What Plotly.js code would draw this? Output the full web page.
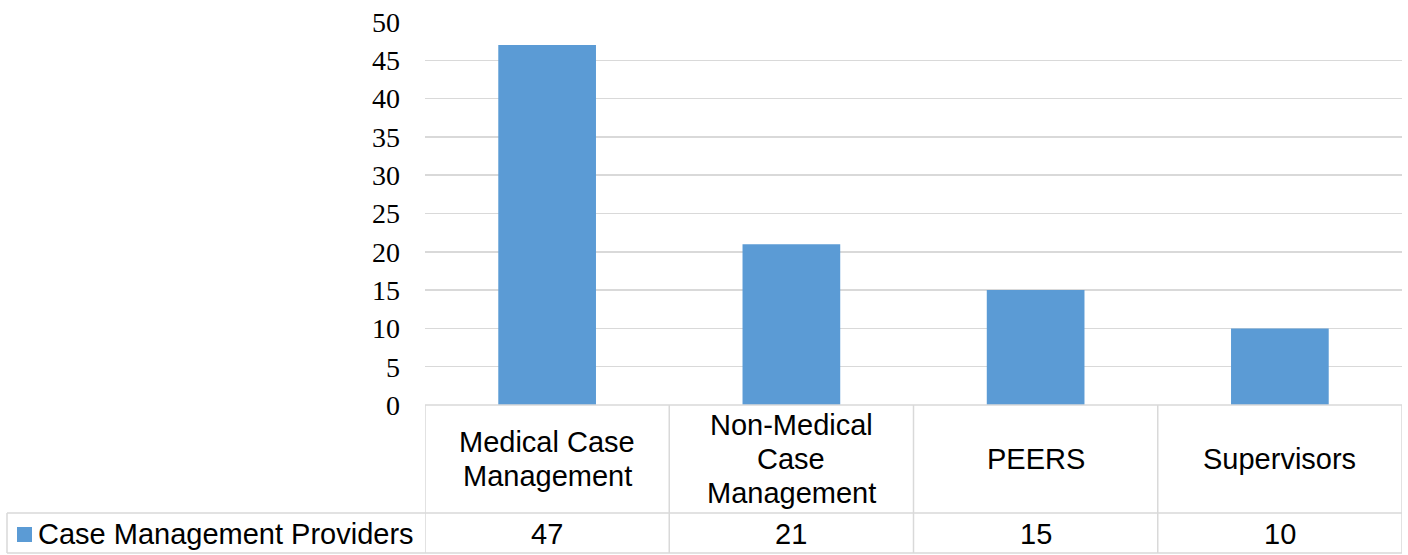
<!DOCTYPE html>
<html>
<head>
<meta charset="utf-8">
<script src="https://cdn.plot.ly/plotly-3.0.1.min.js"></script>
<style>html,body{margin:0;padding:0;background:#fff;}#chart{width:1408px;height:555px;}</style>
</head>
<body>
<div id="chart"></div>
<script>
const categories = ["Medical Case Management", "Non-Medical Case Management", "PEERS", "Supervisors"];
const categoryLines = [["Medical Case", "Management"], ["Non-Medical", "Case", "Management"], ["PEERS"], ["Supervisors"]];
const seriesName = "Case Management Providers";
const values = [47, 21, 15, 10];
const yTicks = [0, 5, 10, 15, 20, 25, 30, 35, 40, 45, 50];

const W = 1408, H = 555;
const L = 425, R = 6, T = 22, B = 150;
const pw = W - L - R, ph = H - T - B;
const X = px => (px - L) / pw;
const Y = py => (H - B - py) / ph;

const gridColor = "#D9D9D9";
const barColor = "#5B9BD5";
const tableFont = {family: "Liberation Sans, Arial, sans-serif", size: 29, color: "#000"};

const idx = categories.map((c, i) => i);

const shapes = [];
const n = categories.length;
shapes.push({type: "line", xref: "paper", yref: "paper", x0: X(425), x1: 1, y0: Y(405), y1: Y(405), line: {color: gridColor, width: 1.5}});
shapes.push({type: "line", xref: "paper", yref: "paper", x0: X(7), x1: 1, y0: Y(513), y1: Y(513), line: {color: gridColor, width: 1.5}});
shapes.push({type: "line", xref: "paper", yref: "paper", x0: X(7), x1: 1, y0: Y(553), y1: Y(553), line: {color: gridColor, width: 1.5}});
for (let k = 0; k <= n; k++) {
  shapes.push({type: "line", xref: "x", yref: "paper", x0: k - 0.5, x1: k - 0.5, y0: Y(405), y1: Y(553), line: {color: gridColor, width: 1.5}});
}
shapes.push({type: "line", xref: "paper", yref: "paper", x0: X(7), x1: X(7), y0: Y(513), y1: Y(553), line: {color: gridColor, width: 1.5}});
shapes.push({type: "rect", xref: "paper", yref: "paper", x0: X(17), x1: X(32), y0: Y(542), y1: Y(527), fillcolor: barColor, line: {width: 0}});

const annotations = [];
const lineStep = 34, headerCenter = 459;
idx.forEach(i => {
  const lines = categoryLines[i];
  lines.forEach((t, k) => {
    const py = headerCenter + (k - (lines.length - 1) / 2) * lineStep;
    annotations.push({xref: "x", yref: "paper", x: i, y: Y(py), text: t, showarrow: false, font: tableFont, xanchor: "center", yanchor: "middle"});
  });
  annotations.push({xref: "x", yref: "paper", x: i, y: Y(534), text: String(values[i]), showarrow: false, font: tableFont, xanchor: "center", yanchor: "middle"});
});
annotations.push({xref: "paper", yref: "paper", x: X(36), y: Y(534), text: seriesName, showarrow: false, font: tableFont, xanchor: "left", yanchor: "middle"});

const data = [{
  type: "bar",
  x: idx,
  y: values,
  name: seriesName,
  marker: {color: barColor},
  hoverinfo: "x+y"
}];

const layout = {
  width: W, height: H,
  margin: {l: L, r: R, t: T, b: B, pad: 0},
  paper_bgcolor: "#fff",
  plot_bgcolor: "#fff",
  showlegend: false,
  bargap: 0.6,
  xaxis: {
    range: [-0.5, n - 0.5],
    showticklabels: false,
    showgrid: false,
    zeroline: false,
    showline: false,
    ticks: "",
    fixedrange: true
  },
  yaxis: {
    range: [0, 50],
    tickvals: yTicks,
    ticktext: yTicks.map(String),
    showgrid: true,
    gridcolor: gridColor,
    gridwidth: 1.5,
    zeroline: false,
    showline: false,
    ticks: "",
    ticklabelstandoff: 24,
    tickfont: {family: "Liberation Serif, Times New Roman, serif", size: 28, color: "#000"},
    fixedrange: true
  },
  shapes: shapes,
  annotations: annotations
};

Plotly.newPlot("chart", data, layout, {displayModeBar: false, staticPlot: true});
</script>
</body>
</html>
